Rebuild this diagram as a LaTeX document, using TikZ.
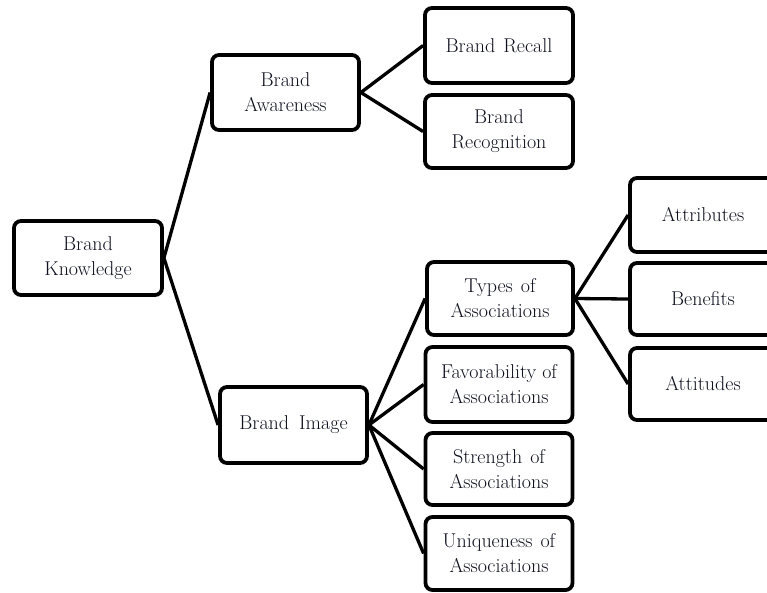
\documentclass[tikz,border=0pt]{standalone}
\usepackage{fontspec}
\setmainfont{Latin Modern Roman}
\definecolor{inktext}{RGB}{14,16,30}
\begin{document}
\begin{tikzpicture}[x=1pt,y=-1pt,
  box/.style={draw=black, line width=3.8pt, rounded corners=7pt, fill=white,
    align=center, text=inktext, font=\fontsize{20}{25}\selectfont,
    inner sep=0pt},
  link/.style={line width=3.3pt, draw=black}]
  \useasboundingbox (0,0) rectangle (767,592);
  \clip (0,0) rectangle (767,592);

  % Root
  \node[box, minimum width=148pt, minimum height=74pt] (know) at (88,258) {Brand\\Knowledge};

  % Second level
  \node[box, minimum width=147pt, minimum height=75pt] (aware) at (285.5,92.5) {Brand\\Awareness};
  \node[box, minimum width=147pt, minimum height=76pt] (image) at (293.5,425) {Brand\hspace{0.5em}Image};

  % Awareness children
  \node[box, minimum width=148pt, minimum height=75pt] (recall) at (499,45.5) {Brand\hspace{0.4em}Recall};
  \node[box, minimum width=148pt, minimum height=73pt] (recog) at (499,131.5) {Brand\\Recognition};

  % Image children
  \node[box, minimum width=146pt, minimum height=73pt] (types) at (500,298.5) {Types\hspace{0.4em}of\\Associations};
  \node[box, minimum width=147pt, minimum height=75pt] (favor) at (499,384.5) {Favorability\hspace{0.3em}of\\Associations};
  \node[box, minimum width=147pt, minimum height=72pt] (strength) at (499,469) {Strength\hspace{0.4em}of\\Associations};
  \node[box, minimum width=147pt, minimum height=73pt] (unique) at (499,553.5) {Uniqueness\hspace{0.4em}of\\Associations};

  % Types children (boxes run past the right edge)
  \node[box, minimum width=146pt, minimum height=74pt] (attrib) at (703,215) {Attributes};
  \node[box, minimum width=146pt, minimum height=72pt] (benef) at (703,299) {Benefits};
  \node[box, minimum width=146pt, minimum height=72pt] (attit) at (703,384) {Attitudes};

  % Connectors
  \draw[link] (know.east) -- (aware.west);
  \draw[link] (know.east) -- (image.west);
  \draw[link] (aware.east) -- (recall.west);
  \draw[link] (aware.east) -- (recog.west);
  \draw[link] (image.east) -- (types.west);
  \draw[link] (image.east) -- (favor.west);
  \draw[link] (image.east) -- (strength.west);
  \draw[link] (image.east) -- (unique.west);
  \draw[link] (types.east) -- (attrib.west);
  \draw[link] (types.east) -- (benef.west);
  \draw[link] (types.east) -- (attit.west);
\end{tikzpicture}
\end{document}
